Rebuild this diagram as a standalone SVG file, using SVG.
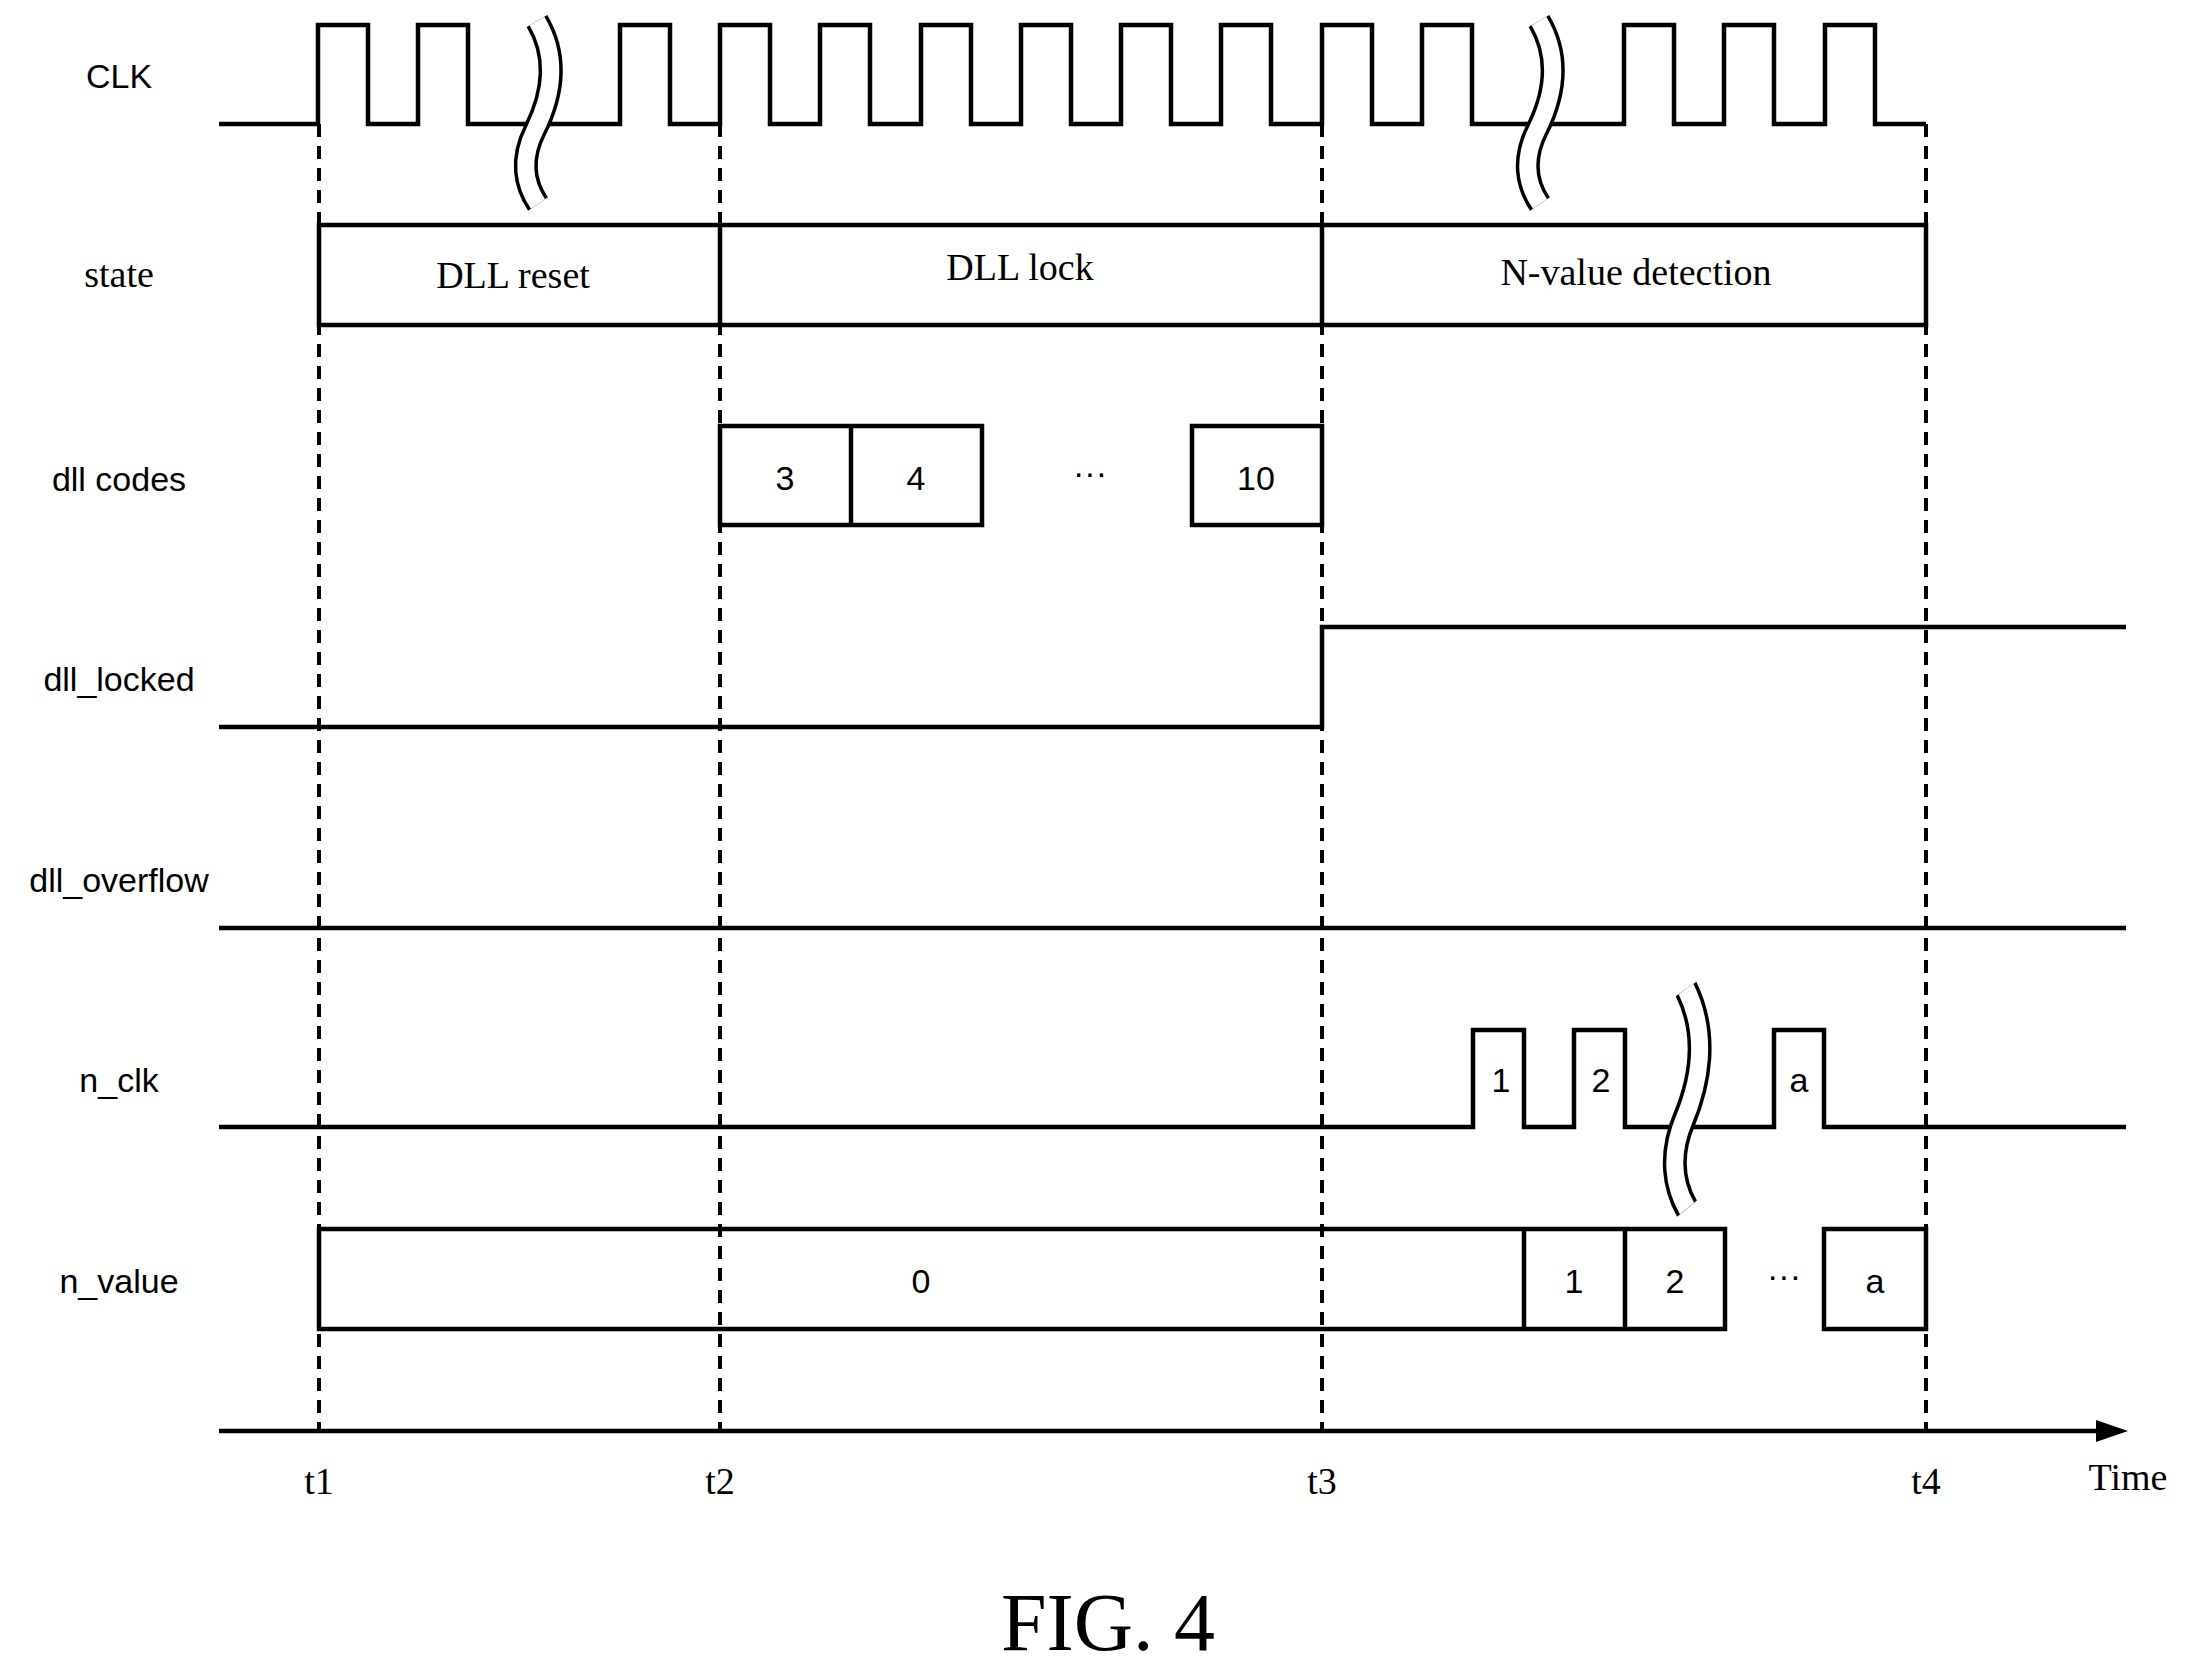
<svg xmlns="http://www.w3.org/2000/svg" width="2191" height="1675" viewBox="0 0 2191 1675">
<style>
.s{fill:none;stroke:#000;stroke-width:4.5;stroke-linejoin:miter}
.d{fill:none;stroke:#000;stroke-width:4;stroke-dasharray:13 9}
.sans{font-family:"Liberation Sans",Arial,sans-serif;font-size:34px;fill:#000}
.ser{font-family:"Liberation Serif","Times New Roman",serif;font-size:38px;fill:#000}
text{text-anchor:middle}
</style>
<defs>
<g id="sq">
<path d="M537,21 C560,60 550,100 535,130 C520,160 525,185 538,204" fill="none" stroke="#000" stroke-width="24"/>
<path d="M537,21 C560,60 550,100 535,130 C520,160 525,185 538,204" fill="none" stroke="#fff" stroke-width="17"/>
</g>
</defs>
<rect width="2191" height="1675" fill="#fff"/>
<g id="labels">
<text class="sans" x="119" y="88">CLK</text>
<text class="ser" x="119" y="287">state</text>
<text class="sans" x="119" y="491">dll codes</text>
<text class="sans" x="119" y="691">dll_locked</text>
<text class="sans" x="119" y="892">dll_overflow</text>
<text class="sans" x="119" y="1092">n_clk</text>
<text class="sans" x="119" y="1293">n_value</text>
</g>
<g id="connectors">
<path class="d" d="M319,124V1431M720,124V1431M1322,124V1431M1926,124V1431"/>
</g>
<g id="clk">
<path class="s" d="M219,124H318V25H368V124H418V25H468V124H620V25H670V124H720V25H770V124H820V25H870V124H921V25H971V124H1021V25H1071V124H1121V25H1171V124H1221V25H1271V124H1322V25H1372V124H1422V25H1472V124H1624V25H1674V124H1724V25H1774V124H1825V25H1875V124H1926"/>
<use href="#sq"/>
<use href="#sq" transform="translate(1002,0)"/>
</g>
<g id="state">
<rect class="s" x="319" y="225" width="1607" height="100"/>
<path class="s" d="M720,225V325M1322,225V325"/>
<text class="ser" x="513" y="288">DLL reset</text>
<text class="ser" x="1020" y="280">DLL lock</text>
<text class="ser" x="1636" y="285">N-value detection</text>
</g>
<g id="dllcodes">
<rect class="s" x="720" y="426" width="262" height="99"/>
<path class="s" d="M851,426V525"/>
<rect class="s" x="1192" y="426" width="130" height="99"/>
<text class="sans" x="785" y="490">3</text>
<text class="sans" x="916" y="490">4</text>
<text class="sans" x="1090" y="484">···</text>
<text class="sans" x="1256" y="490">10</text>
</g>
<g id="dll_locked"><path class="s" d="M219,727H1322V627H2126"/></g>
<g id="dll_overflow"><path class="s" d="M219,928H2126"/></g>
<g id="n_clk">
<path class="s" d="M219,1127H1473V1030H1524V1127H1574V1030H1625V1127H1774V1030H1824V1127H2126"/>
<use href="#sq" transform="translate(1686,989) scale(1,1.2) translate(-537,-21)"/>
<text class="sans" x="1501" y="1092">1</text>
<text class="sans" x="1601" y="1092">2</text>
<text class="sans" x="1799" y="1092">a</text>
</g>
<g id="n_value">
<rect class="s" x="319" y="1229" width="1406" height="100"/>
<path class="s" d="M1524,1229V1329M1625,1229V1329"/>
<rect class="s" x="1824" y="1229" width="102" height="100"/>
<text class="sans" x="921" y="1293">0</text>
<text class="sans" x="1574" y="1293">1</text>
<text class="sans" x="1675" y="1293">2</text>
<text class="sans" x="1784" y="1287">···</text>
<text class="sans" x="1875" y="1293">a</text>
</g>
<g id="axis">
<path class="s" d="M219,1431H2100"/>
<path d="M2096,1420L2128,1431L2096,1442Z" fill="#000"/>
<text class="ser" x="319" y="1494">t1</text>
<text class="ser" x="720" y="1494">t2</text>
<text class="ser" x="1322" y="1494">t3</text>
<text class="ser" x="1926" y="1494">t4</text>
<text class="ser" x="2128" y="1490">Time</text>
</g>
<text class="ser" x="1108" y="1650" style="font-size:82px">FIG. 4</text>
</svg>
